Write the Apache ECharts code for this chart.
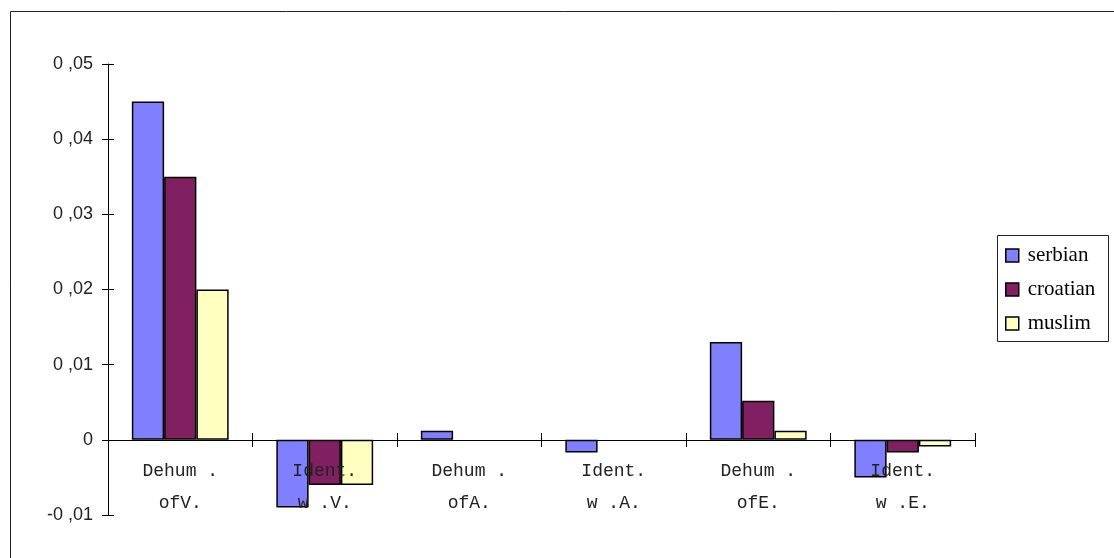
<!DOCTYPE html>
<html lang="en">
<head>
    <meta charset="UTF-8">
    <title>Dehumanization chart</title>
    <script src="https://cdn.jsdelivr.net/npm/echarts@6/dist/echarts.min.js"></script>
    <style>
        body { margin: 0; background: #fff; }
    </style>
</head>
<body>
<div id="main" style="width: 1114px;height:558px;"></div>
<script type="text/javascript">
    // categories (two-line labels)
    var categories = ['Dehum .\nofV.', 'Ident.\nw .V.', 'Dehum .\nofA.', 'Ident.\nw .A.', 'Dehum .\nofE.', 'Ident.\nw .E.'];
    var seriesNames = ['serbian', 'croatian', 'muslim'];
    // values
    var serbian = [0.045, -0.009, 0.0012, -0.0017, 0.013, -0.005];
    var croatian = [0.035, -0.006, 0, 0, 0.0052, -0.0017];
    var muslim = [0.02, -0.006, 0, 0, 0.0012, -0.0009];
    var colors = ['#8080ff', '#802060', '#ffffc0'];

    var myChart = echarts.init(document.getElementById('main'));

    // y labels look like "0 ,05"
    function yLabel(v) {
        if (Math.abs(v) < 1e-9) return '0';
        return v.toFixed(2).replace('.', ' ,');
    }

    // zero bars are not drawn in the original (no outline)
    function noZero(vals) {
        return vals.map(function (v) { return v === 0 ? '-' : v; });
    }

    var valueAxisBase = {
        type: 'value',
        min: -0.01,
        max: 0.05,
        interval: 0.01,
        splitLine: { show: false }
    };

    // x axis sits at value 0: 75px above the grid bottom
    var zeroOffset = -75;

    var option = {
        animation: false,
        grid: { left: 108, right: 139, top: 64, bottom: 43, containLabel: false, outerBoundsMode: 'none' },
        legend: {
            orient: 'vertical',
            left: 1005,
            top: 245,
            padding: 0,
            itemWidth: 13,
            itemHeight: 13,
            itemGap: 13,
            icon: 'rect',
            data: seriesNames,
            textStyle: { fontFamily: 'Liberation Serif', fontSize: 21, color: '#000', padding: [0, 0, 0, 4] },
            itemStyle: { borderColor: '#000', borderWidth: 1.5 }
        },
        xAxis: [{
            type: 'category',
            data: categories,
            position: 'bottom',
            offset: zeroOffset,
            z: 10,
            axisLine: { onZero: false, lineStyle: { color: '#000', width: 1 } },
            axisTick: { show: true, interval: 0, alignWithLabel: false, length: 7, lineStyle: { color: '#000', width: 1 } },
            axisLabel: {
                interval: 0,
                margin: 15,
                lineHeight: 32,
                fontFamily: 'Liberation Mono',
                fontSize: 18,
                color: '#222'
            }
        }, {
            type: 'category',
            data: categories,
            position: 'bottom',
            offset: zeroOffset,
            z: 10,
            axisLine: { show: false, onZero: false },
            axisTick: { show: true, interval: 0, alignWithLabel: false, inside: true, length: 7, lineStyle: { color: '#000', width: 1 } },
            axisLabel: { show: false }
        }],
        yAxis: [Object.assign({}, valueAxisBase, {
            axisLine: { show: true, lineStyle: { color: '#000', width: 1 } },
            axisTick: { show: true, length: 6, lineStyle: { color: '#000' } },
            axisLabel: {
                margin: 15,
                formatter: yLabel,
                fontFamily: 'Liberation Sans',
                fontSize: 18,
                color: '#222'
            }
        }), Object.assign({}, valueAxisBase, {
            position: 'left',
            axisLine: { show: false },
            axisTick: { show: true, inside: true, length: 6, lineStyle: { color: '#000' } },
            axisLabel: { show: false }
        })],
        series: [serbian, croatian, muslim].map(function (vals, i) {
            return {
                name: seriesNames[i],
                type: 'bar',
                data: noZero(vals),
                barGap: '0%',
                barCategoryGap: '33%',
                itemStyle: { color: colors[i], borderColor: '#000', borderWidth: 1.5 }
            };
        }),
        graphic: [{
            type: 'rect',
            shape: { x: 10.5, y: 11.5, width: 1200, height: 600 },
            style: { fill: 'none', stroke: '#222', lineWidth: 1 },
            silent: true
        }, {
            type: 'rect',
            shape: { x: 997.5, y: 235.5, width: 111, height: 106 },
            style: { fill: 'none', stroke: '#222', lineWidth: 1 },
            silent: true
        }]
    };
    myChart.setOption(option);
</script>
</body>
</html>
